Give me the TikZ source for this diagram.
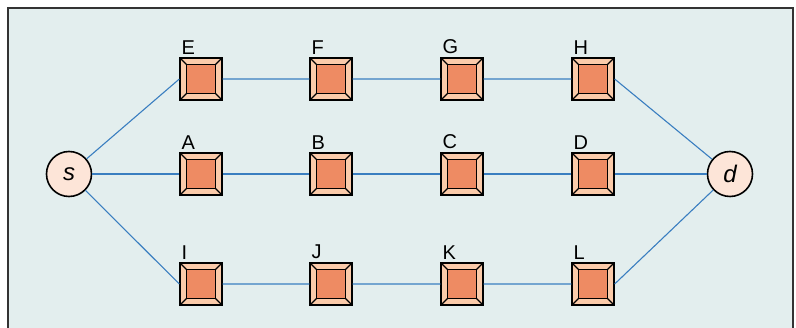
\documentclass[tikz,border=0pt]{standalone}
\usepackage{fontspec}
\setmainfont{Liberation Sans}
\definecolor{bgcol}{HTML}{E3EEEE}
\definecolor{peach}{HTML}{FBCBAA}
\definecolor{salmon}{HTML}{EE8B63}
\definecolor{linkcol}{HTML}{3A7EC0}
\definecolor{endcol}{HTML}{FDE5D8}
\definecolor{framecol}{HTML}{333333}
\tikzset{
  router/.style={draw=black, line width=1.3pt, fill=peach, minimum size=42pt, inner sep=0pt,
    path picture={
      \draw[line width=1.2pt] (path picture bounding box.south west) -- ++(6.5pt,6.5pt)
                             (path picture bounding box.south east) -- ++(-6.5pt,6.5pt)
                             (path picture bounding box.north west) -- ++(6.5pt,-6.5pt)
                             (path picture bounding box.north east) -- ++(-6.5pt,-6.5pt);
      \draw[line width=1.3pt, fill=salmon]
        ([shift={(6.5pt,6.5pt)}]path picture bounding box.south west) rectangle
        ([shift={(-6.5pt,-6.5pt)}]path picture bounding box.north east);
    }},
  endpt/.style={circle, draw=black, line width=1.6pt, fill=endcol, minimum size=45pt, inner sep=0pt,
    font=\fontsize{24}{24}\selectfont\itshape},
  lab/.style={anchor=south west, inner sep=0pt, font=\fontsize{20}{20}\selectfont},
  link/.style={draw=linkcol, line width=1.1pt}
}
\begin{document}
\begin{tikzpicture}[x=1pt,y=-1pt]
  \useasboundingbox (0,0) rectangle (796,328);
  % panel
  \fill[bgcol] (8,8) rectangle (793,328);
  \draw[framecol, line width=2pt] (8,328) -- (8,8) -- (793,8) -- (793,328);

  % routers, three parallel paths
  \foreach \n/\x/\y in {E/201/79, F/331/79, G/462/79, H/593/79,
                        A/201/174, B/331/174, C/462/174, D/593/174,
                        I/201/284, J/331/284, K/462/284, L/593/284} {
    \node[router] (\n) at (\x,\y) {};
    \node[lab] (\n-lab) at ([xshift=2pt,yshift=3pt]\n.north west) {\n};
  }

  % end points
  \node[endpt] (s) at (69,174) {s};
  \node[endpt] (d) at (730,174) {d};

  % links
  \path[link] (s) -- (E.west) (E) -- (F) (F) -- (G) (G) -- (H) (H.east) -- (d);
  \path[link] (s) -- (A) (A) -- (B) (B) -- (C) (C) -- (D) (D) -- (d);
  \path[link] (s) -- (I.west) (I) -- (J) (J) -- (K) (K) -- (L) (L.east) -- (d);
\end{tikzpicture}
\end{document}
